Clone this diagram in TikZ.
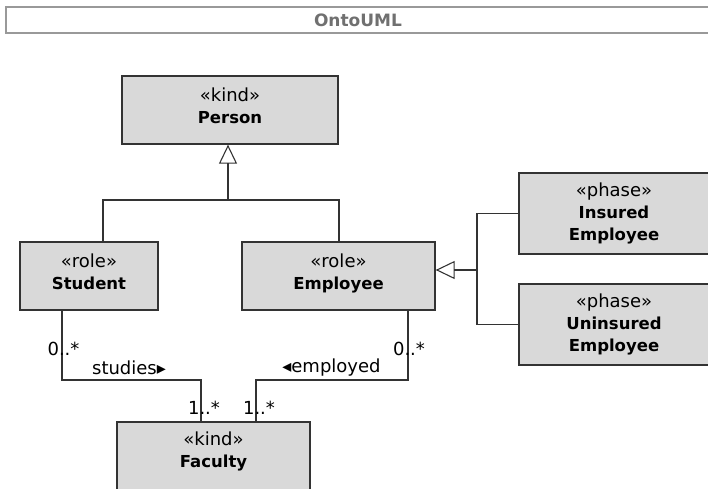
\documentclass[tikz,border=0pt]{standalone}
\usepackage{fontspec}
\setmainfont{DejaVu Sans}
\newfontfamily\regf{DejaVu Sans}
\usetikzlibrary{arrows.meta}
\definecolor{boxfill}{HTML}{D9D9D9}
\definecolor{boxline}{HTML}{333333}
\definecolor{titlegray}{HTML}{707070}
\newcommand{\stereo}[1]{{\regf\fontsize{18bp}{22bp}\selectfont #1}}
\newcommand{\cname}[1]{{\bfseries\fontsize{16.5bp}{22bp}\selectfont #1}}
\newcommand{\lowstrut}{\rule[-8bp]{0pt}{0pt}}
\begin{document}
\begin{tikzpicture}[x=1bp,y=-1bp,
  cls/.style={draw=boxline, fill=boxfill, line width=1.3bp, inner sep=0pt, align=center,
    font=\fontsize{16.5bp}{22bp}\selectfont},
  conn/.style={line width=1.1bp, draw=boxline},
  gen/.style={conn, -{Triangle[open, length=19bp, width=18bp]}},
  lbl/.style={inner sep=0pt, font=\regf\fontsize{18bp}{20bp}\selectfont}
]
\useasboundingbox (0,0) rectangle (708,489);

% title bar
\node[draw=black!40, line width=1.4bp, minimum width=704bp, minimum height=26bp, inner sep=0pt,
  text=titlegray, font=\bfseries\fontsize{17bp}{20bp}\selectfont] (title) at (358,20) {OntoUML};

% classes
\node[cls, minimum width=216bp, minimum height=68bp] (person) at (230,110)
  {\stereo{«kind»}\\\cname{Person}\lowstrut};
\node[cls, minimum width=138bp, minimum height=68bp] (student) at (89,276)
  {\stereo{«role»}\\\cname{Student}\lowstrut};
\node[cls, minimum width=193bp, minimum height=68bp] (employee) at (338.5,276)
  {\stereo{«role»}\\\cname{Employee}\lowstrut};
\node[cls, minimum width=193bp, minimum height=70bp] (faculty) at (213.5,457)
  {\stereo{«kind»}\\\cname{Faculty}\rule[-14bp]{0pt}{0pt}};
\node[cls, minimum width=190bp, minimum height=81bp] (insured) at (614,213.5)
  {\stereo{«phase»}\\\cname{Insured}\\\cname{Employee}};
\node[cls, minimum width=190bp, minimum height=81bp] (uninsured) at (614,324.5)
  {\stereo{«phase»}\\\cname{Uninsured}\\\cname{Employee}};

% generalization Person
\coordinate (gj) at (228,200);
\coordinate (s1) at (103,200);
\coordinate (e1) at (339,200);
\draw[conn] (student.north -| s1) -- (s1) -- (e1) -- (employee.north -| e1);
\draw[gen] (gj) -- (person.south -| gj);

% generalization Employee phases
\coordinate (pj) at (477,270);
\draw[conn] (insured.west) -- (insured.west -| pj) -- (uninsured.west -| pj) -- (uninsured.west);
\draw[gen] (pj) -- (employee.east |- pj);

% associations
\coordinate (a1) at (62,380);
\coordinate (a2) at (201,380);
\coordinate (b1) at (408,380);
\coordinate (b2) at (256,380);
\draw[conn] (student.south -| a1) -- (a1) -- (a2) -- (faculty.north -| a2);
\draw[conn] (employee.south -| b1) -- (b1) -- (b2) -- (faculty.north -| b2);

% labels
\node[lbl] (m1) at (63.5,349) {0..*};
\node[lbl] (m2) at (409,349) {0..*};
\node[lbl] (m3) at (204,408) {1..*};
\node[lbl] (m4) at (259,408) {1..*};
\node[lbl] (n1) at (129,368) {studies▸};
\node[lbl] (n2) at (331.5,368) {◂employed};
\end{tikzpicture}
\end{document}
